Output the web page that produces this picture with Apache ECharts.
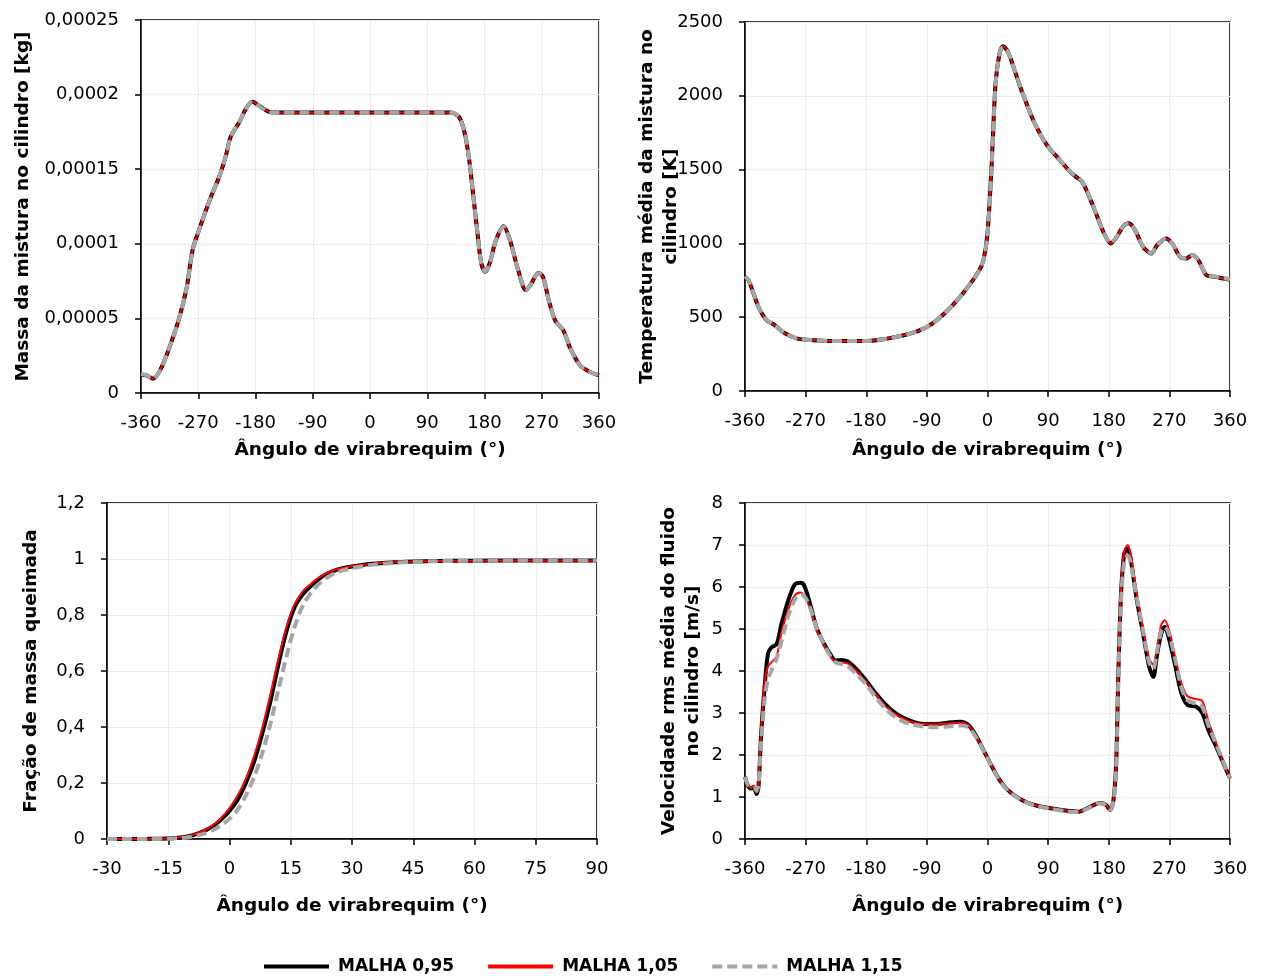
<!DOCTYPE html>
<html>
<head>
<meta charset="utf-8">
<script src="https://cdn.jsdelivr.net/npm/echarts@6/dist/echarts.min.js"></script>
<style>
html,body{margin:0;padding:0;background:#fff}
#chart{width:1265px;height:976px}
</style>
</head>
<body>
<div id="chart"></div>
<script>
// Mesh names shown in the legend
const meshNames = ['MALHA 0,95', 'MALHA 1,05', 'MALHA 1,15'];

// Cylinder charge mass [kg] vs crank angle
const massAngle = [-360,-352,-341,-330,-317,-301,-288,-279,-269,-250,-237,-227,-219,-205,-195,-185,-172,-156,-140,-100,0,100,127,140,149,156,162,169,175,181,188,198,210,220,233,245,252,265,272,281,291,304,314,330,346,360];
const mass095 = [1.23e-5,1.19e-5,0.96e-5,1.52e-5,2.86e-5,4.87e-5,7.1e-5,9.57e-5,1.09e-4,1.315e-4,1.449e-4,1.583e-4,1.717e-4,1.818e-4,1.905e-4,1.952e-4,1.918e-4,1.881e-4,1.88e-4,1.88e-4,1.88e-4,1.88e-4,1.88e-4,1.85e-4,1.74e-4,1.56e-4,1.337e-4,1.069e-4,8.68e-5,8.12e-5,8.68e-5,1.024e-4,1.118e-4,1.024e-4,8.23e-5,6.89e-5,7.22e-5,8.05e-5,7.78e-5,6.22e-5,4.87e-5,4.2e-5,3.08e-5,1.86e-5,1.41e-5,1.19e-5];
const mass105 = [1.23e-5,1.19e-5,0.96e-5,1.52e-5,2.86e-5,4.87e-5,7.1e-5,9.57e-5,1.09e-4,1.315e-4,1.449e-4,1.583e-4,1.717e-4,1.818e-4,1.905e-4,1.952e-4,1.918e-4,1.881e-4,1.88e-4,1.88e-4,1.88e-4,1.88e-4,1.88e-4,1.85e-4,1.74e-4,1.56e-4,1.337e-4,1.069e-4,8.68e-5,8.12e-5,8.68e-5,1.024e-4,1.12e-4,1.024e-4,8.23e-5,6.9e-5,7.22e-5,8.07e-5,7.78e-5,6.22e-5,4.87e-5,4.2e-5,3.08e-5,1.86e-5,1.41e-5,1.19e-5];
const mass115 = [1.25e-5,1.2e-5,0.97e-5,1.52e-5,2.86e-5,4.87e-5,7.1e-5,9.57e-5,1.09e-4,1.315e-4,1.449e-4,1.583e-4,1.717e-4,1.818e-4,1.905e-4,1.95e-4,1.916e-4,1.881e-4,1.88e-4,1.88e-4,1.88e-4,1.88e-4,1.88e-4,1.85e-4,1.74e-4,1.56e-4,1.337e-4,1.069e-4,8.68e-5,8.15e-5,8.68e-5,1.024e-4,1.115e-4,1.024e-4,8.23e-5,6.92e-5,7.22e-5,8.03e-5,7.78e-5,6.22e-5,4.87e-5,4.2e-5,3.08e-5,1.86e-5,1.41e-5,1.19e-5];

// Mean in-cylinder temperature [K] vs crank angle
const tempAngle = [-360,-355,-349,-340,-328,-316,-300,-282,-258,-234,-179,-149,-124,-100,-82,-64,-45,-27,-12,-6,0,6,12,18,23,31,40,52,70,88,107,125,140,149,161,173,183,192,201,210,219,231,243,252,265,274,286,295,304,313,325,338,350,360];
const temp095 = [774,751,683,570,480,446,389,355,344,339,339,355,378,412,457,525,615,717,819,887,1068,1520,2086,2290,2335,2290,2176,2018,1814,1667,1566,1475,1419,1339,1204,1068,1000,1045,1113,1136,1090,977,932,989,1034,1000,909,898,921,887,785,774,762,756];
const temp105 = [774,751,683,570,480,446,389,355,344,339,339,355,378,412,457,525,615,717,819,887,1075,1530,2092,2295,2338,2292,2176,2018,1814,1667,1566,1475,1419,1339,1204,1068,1000,1045,1113,1136,1090,977,932,989,1034,1000,909,898,921,887,785,774,762,756];
const temp115 = [776,753,685,572,482,447,390,356,344,339,339,355,378,412,457,525,615,717,819,887,1060,1505,2075,2285,2330,2290,2178,2020,1816,1669,1568,1477,1421,1341,1206,1070,1002,1047,1115,1136,1090,979,934,991,1034,1000,911,900,921,889,787,776,764,758];

// Mass fraction burned vs crank angle
const mfbAngle = [-30,-25,-20,-15,-12,-10,-8,-6,-4,-2,0,2,4,6,8,10,12,14,16,18,20,22,24,26,28,30,35,40,45,50,60,70,80,90];
const mfb095 = [0,0,0.0005,0.002,0.005,0.01,0.018,0.03,0.046,0.07,0.10,0.14,0.20,0.275,0.375,0.49,0.625,0.745,0.83,0.875,0.905,0.93,0.948,0.96,0.968,0.973,0.983,0.988,0.991,0.993,0.994,0.995,0.995,0.995];
const mfb105 = [0,0,0.0005,0.002,0.006,0.011,0.02,0.033,0.05,0.076,0.11,0.155,0.215,0.295,0.395,0.515,0.645,0.76,0.84,0.885,0.912,0.935,0.951,0.962,0.969,0.974,0.983,0.988,0.991,0.993,0.994,0.995,0.995,0.995];
const mfb115 = [0,0,0,0.001,0.003,0.006,0.012,0.02,0.032,0.05,0.072,0.105,0.155,0.22,0.305,0.41,0.535,0.655,0.76,0.835,0.88,0.912,0.935,0.95,0.96,0.967,0.979,0.986,0.99,0.992,0.994,0.995,0.995,0.995];

// RMS velocity of the in-cylinder flow [m/s] vs crank angle
const rmsAngle = [-360,-356,-351,-347,-343,-340,-336,-331,-326,-321,-313,-306,-296,-286,-278,-273,-266,-258,-253,-245,-235,-225,-218,-208,-195,-180,-165,-150,-135,-115,-95,-75,-59,-40,-28,-16,-1,15,30,51,69,94,118,136,148,167,176,182,187,191,194,198,203,208,212,221,231,240,246,252,258,263,270,279,288,297,310,319,328,337,346,360];
const rms095 = [1.48,1.28,1.2,1.24,1.07,1.24,2.5,3.61,4.4,4.56,4.64,5.11,5.67,6.06,6.1,6.06,5.75,5.27,5.0,4.72,4.44,4.25,4.26,4.23,4.05,3.77,3.45,3.18,2.98,2.82,2.74,2.74,2.77,2.79,2.71,2.43,1.96,1.48,1.17,0.93,0.81,0.73,0.67,0.65,0.73,0.86,0.81,0.69,0.93,1.8,3.78,5.76,6.8,6.91,6.72,5.76,4.89,4.1,3.86,4.42,4.89,5.05,4.73,4.1,3.46,3.19,3.15,2.99,2.59,2.28,1.96,1.44];
const rms105 = [1.48,1.3,1.22,1.27,1.1,1.3,2.6,3.7,4.1,4.2,4.35,4.9,5.45,5.8,5.87,5.83,5.6,5.2,4.95,4.7,4.4,4.2,4.2,4.18,4.0,3.73,3.42,3.14,2.95,2.8,2.74,2.73,2.75,2.77,2.7,2.42,1.96,1.48,1.17,0.93,0.81,0.73,0.67,0.65,0.73,0.86,0.81,0.7,0.95,1.85,3.85,5.85,6.85,7.0,6.82,5.9,5.0,4.3,4.15,4.6,5.1,5.21,4.95,4.3,3.7,3.4,3.33,3.28,2.8,2.4,2.0,1.44];
const rms115 = [1.48,1.3,1.25,1.25,1.15,1.3,2.3,3.3,3.8,4.0,4.3,4.7,5.3,5.7,5.82,5.8,5.62,5.25,5.0,4.72,4.4,4.2,4.17,4.12,3.93,3.68,3.35,3.08,2.88,2.74,2.68,2.66,2.68,2.7,2.65,2.4,1.95,1.47,1.16,0.92,0.8,0.72,0.66,0.64,0.72,0.85,0.8,0.7,0.9,1.7,3.6,5.6,6.6,6.75,6.6,5.8,4.95,4.2,4.05,4.5,4.95,5.05,4.85,4.25,3.6,3.3,3.22,3.15,2.7,2.35,2.0,1.44];

const FONT = '"DejaVu Sans", sans-serif';
const pairs = (xs, ys) => xs.map((x, i) => [x, ys[i]]);
const commaFmt = v => String(Number(v.toPrecision(6))).replace('.', ',');

const meshLine = [
  { color: '#000000', width: 4, type: 'solid', z: 2 },
  { color: '#FF0000', width: 2, type: 'solid', z: 3 },
  { color: '#A6A6A6', width: 4, type: [10, 5], z: 4 }
];

const panels = [
  { angle: massAngle, sets: [mass095, mass105, mass115] },
  { angle: tempAngle, sets: [temp095, temp105, temp115] },
  { angle: mfbAngle, sets: [mfb095, mfb105, mfb115] },
  { angle: rmsAngle, sets: [rms095, rms105, rms115] }
];

const grids = [
  { left: 141, top: 20, width: 458, height: 373 },
  { left: 745, top: 22, width: 485, height: 369 },
  { left: 107, top: 503, width: 490, height: 336 },
  { left: 745, top: 503, width: 485, height: 336 }
].map(g => Object.assign({ show: true, borderColor: '#000', borderWidth: 1.5, backgroundColor: 'transparent' }, g));

const xTitle = 'Ângulo de virabrequim (°)';
const xRanges = [[-360, 360, 90, 45], [-360, 360, 90, 47], [-30, 90, 15, 55], [-360, 360, 90, 55]];
const yRanges = [
  { min: 0, max: 0.00025, interval: 0.00005, name: 'Massa da mistura no cilindro [kg]', gap: 106 },
  { min: 0, max: 2500, interval: 500, name: 'Temperatura média da mistura no\ncilindro [K]', gap: 62 },
  { min: 0, max: 1.2, interval: 0.2, name: 'Fração de massa queimada', gap: 64 },
  { min: 0, max: 8, interval: 1, name: 'Velocidade rms média do fluido\nno cilindro [m/s]', gap: 40 }
];

const axisLineStyle = { color: '#000', width: 1.5 };
const labelStyle = { fontFamily: FONT, fontSize: 18, color: '#000' };
const nameStyle = { fontFamily: FONT, fontSize: 18.5, fontWeight: 'bold', color: '#000', lineHeight: 24 };
const gridLine = { show: true, lineStyle: { color: '#ECECEC', width: 1 } };

const xAxes = xRanges.map(([min, max, interval, gap], i) => ({
  type: 'value', gridIndex: i, min, max, interval,
  name: xTitle, nameLocation: 'middle', nameGap: gap, nameTextStyle: nameStyle,
  axisLine: { show: true, onZero: false, lineStyle: axisLineStyle },
  axisTick: { show: true, inside: false, length: 6, lineStyle: axisLineStyle },
  axisLabel: Object.assign({ margin: 21, formatter: v => String(v) }, labelStyle),
  splitLine: gridLine
}));

// the second title line of the temperature panel runs into its tick labels, so keep names where nameGap puts them
const yAxes = yRanges.map((r, i) => ({
  type: 'value', gridIndex: i, min: r.min, max: r.max, interval: r.interval,
  name: r.name, nameLocation: 'middle', nameRotate: 90, nameGap: r.gap, nameTextStyle: nameStyle,
  nameMoveOverlap: false,
  axisLine: { show: true, onZero: false, lineStyle: axisLineStyle },
  axisTick: { show: true, inside: false, length: 6, lineStyle: axisLineStyle },
  axisLabel: Object.assign({ margin: 22, formatter: commaFmt }, labelStyle),
  splitLine: gridLine
}));

const series = [];
panels.forEach((p, g) => {
  p.sets.forEach((ys, k) => {
    const st = meshLine[k];
    series.push({
      name: meshNames[k], type: 'line', xAxisIndex: g, yAxisIndex: g,
      data: pairs(p.angle, ys), symbol: 'none', showSymbol: false, smooth: 0.3,
      z: st.z, animation: false,
      lineStyle: { color: st.color, width: st.width, type: st.type },
      itemStyle: { color: st.color }
    });
  });
});

const chart = echarts.init(document.getElementById('chart'), null, { renderer: 'canvas' });
chart.setOption({
  backgroundColor: '#ffffff',
  animation: false,
  grid: grids,
  xAxis: xAxes,
  yAxis: yAxes,
  legend: {
    left: 262, top: 958, padding: 0, itemWidth: 65, itemHeight: 14, itemGap: 32,
    textStyle: { fontFamily: FONT, fontSize: 17, fontWeight: 'bold', color: '#000', padding: [0, 0, 0, 4] },
    lineStyle: { width: 4 },
    itemStyle: { opacity: 0 },
    data: meshNames
  },
  series
});
</script>
</body>
</html>
